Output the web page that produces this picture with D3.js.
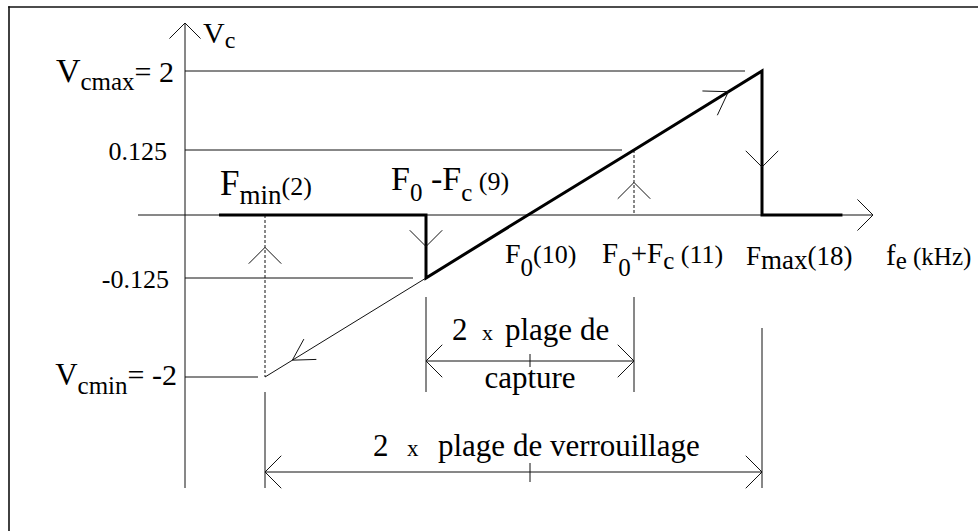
<!DOCTYPE html>
<html>
<head>
<meta charset="utf-8">
<script src="https://cdn.jsdelivr.net/npm/d3@7"></script>
<style>
  html, body { margin: 0; padding: 0; background: #fff; }
  svg { display: block; }
  text { font-family: "Liberation Serif", "Times New Roman", serif; fill: #000; }
</style>
</head>
<body>
<svg id="chart" width="978" height="531"></svg>
<script>
// Characteristic frequencies of the PLL (kHz): Fmin, F0-Fc, F0, F0+Fc, Fmax
const freqKHz = [2, 9, 10, 11, 18];
// Control voltage levels (V): Vcmin, -Vc(capture), 0, +Vc(capture), Vcmax
const vcLevels = [-2, -0.125, 0, 0.125, 2];

// Locked characteristic Vc(fe), drawn thick
const lockF = [0, 9, 9, 10, 11, 18, 18, 22.4];
const lockV = [0, 0, -0.125, 0, 0.125, 2, 0, 0];
// Lock range extension down to Fmin, drawn thin
const extF = [2, 9];
const extV = [-2, -0.125];

// Frequency-axis label parts: [text, font size, baseline shift]
const freqLabelParts = [
  [["F", 35, 0], ["min", 27, 9], ["(2)", 26, -9]],
  [["F", 34, 0], ["0", 25, 11], [" -F", 34, -11], ["c", 25, 11], [" (9)", 26, -11]],
  [["F", 28, 0], ["0", 25, 13], ["(10)", 26, -13]],
  [["F", 29, 0], ["0", 25, 13], ["+F", 29, -13], ["c", 25, 6], [" (11)", 26, -6]],
  [["F", 27, 0], ["max", 27, 4], ["(18)", 27, -4]]
];
const axisXLabelParts = [["f", 29, 0], ["e", 25, 4], [" (kHz)", 25, -4]];
const axisYLabelParts = [["V", 30, 0], ["c", 24, 5]];
const vcLabelParts = [
  [["V", 31, 0], ["cmin", 25, 9], ["= -2", 30, -9]],
  [["-0.125", 26, 0]],
  null,
  [["0.125", 26, 0]],
  [["V", 34, 0], ["cmax", 25, 8], ["= 2", 30, -8]]
];

const svg = d3.select("#chart");

// Piecewise-linear scales (the sketch is not to scale)
const x = d3.scaleLinear().domain(freqKHz).range([265, 426, 528, 634, 762]);
const y = d3.scaleLinear().domain(vcLevels).range([377, 278, 215, 150, 71]);
const axisX = 185;

const ink = "#111";
function seg(x1, y1, x2, y2, w = 1, dash = null, col = ink) {
  const l = svg.append("line").attr("x1", x1).attr("y1", y1).attr("x2", x2).attr("y2", y2)
    .attr("stroke", col).attr("stroke-width", w).attr("stroke-linecap", "butt");
  if (dash) l.attr("stroke-dasharray", dash);
  return l;
}
// Open chevron arrowhead whose tip is at (tx,ty) pointing along angle (radians)
function chevron(tx, ty, ang, len = 22, half = Math.PI / 4, w = 1) {
  const back = ang + Math.PI;
  [back - half, back + half].forEach(a => {
    seg(tx, ty, tx + len * Math.cos(a), ty + len * Math.sin(a), w);
  });
}

// Frame (top and left edges)
seg(8.2, 7, 978, 7, 1.6);
seg(9, 6.2, 9, 531, 1.6);

// Horizontal guides from the Vc axis to each level
const guideGap = [7, 13, null, 12, 17];
vcLevels.forEach((v, i) => {
  if (guideGap[i] === null) return;
  seg(axisX, y(v), x(freqKHz[i]) - guideGap[i], y(v), 1);
});

// Frequency axis with arrow
seg(138, y(0), 873, y(0), 1);
chevron(873, y(0), 0, 22, Math.PI / 4);
// Vc axis with arrow
seg(axisX, 23, axisX, 488, 1);
chevron(axisX, 23, -Math.PI / 2, 22, Math.PI / 4);

// Dashed projections
seg(x(2), y(0), x(2), y(-2), 1, "3,2");
seg(x(11), y(0.125), x(11), y(0), 1, "3,2");

// Thin extension of the characteristic down to (Fmin, Vcmin)
const line = d3.line().x(d => x(d[0])).y(d => y(d[1]));
svg.append("path").attr("d", line(d3.zip(extF, extV)))
  .attr("fill", "none").attr("stroke", ink).attr("stroke-width", 1);

// Thick locked characteristic
svg.append("path").attr("d", line(d3.zip(lockF, lockV)))
  .attr("fill", "none").attr("stroke", "#000").attr("stroke-width", 3)
  .attr("stroke-linejoin", "miter");

// Direction arrows on the characteristic
function along(f1, v1, f2, v2, t) {
  const x1 = x(f1), y1 = y(v1), x2 = x(f2), y2 = y(v2);
  return [x1 + (x2 - x1) * t, y1 + (y2 - y1) * t, Math.atan2(y2 - y1, x2 - x1)];
}
let p;
p = along(9, -0.125, 18, 2, 0.9);  chevron(p[0], p[1], p[2], 26, 0.58);
p = along(9, -0.125, 2, -2, 0.83); chevron(p[0], p[1], p[2], 24, 0.52);
p = along(9, 0, 9, -0.125, 0.5);   chevron(p[0], p[1], p[2], 23);
p = along(18, 2, 18, 0, 0.667);    chevron(p[0], p[1], p[2], 23);
p = along(2, -2, 2, 0, 0.8);       chevron(p[0], p[1], p[2], 23);
p = along(11, 0, 11, 0.125, 0.5);  chevron(p[0], p[1], p[2], 23);

// Capture range dimension
seg(x(9), 297, x(9), 392);
seg(x(11), 297, x(11), 392);
seg(x(9), 361, x(11), 361);
chevron(x(9), 361, Math.PI, 23);
chevron(x(11), 361, 0, 23);
seg(x(10) + 2, 354, x(10) + 2, 367);

// Lock range dimension
seg(x(2), 392, x(2), 488);
seg(x(18), 328, x(18), 488);
seg(x(2), 472, x(18), 472);
chevron(x(2), 472, Math.PI, 23);
chevron(x(18), 472, 0, 23);
seg(x(10) + 2, 463, x(10) + 2, 482);

// Multi-part label helper
function label(px, py, parts, anchor = "start") {
  const t = svg.append("text").attr("x", px).attr("y", py).attr("text-anchor", anchor);
  parts.forEach(([s, size, dy]) => {
    t.append("tspan").attr("font-size", size).attr("dy", dy).text(s);
  });
  t.style("white-space", "pre");
  return t;
}

// Axis titles
label(203, 43, axisYLabelParts);
label(886, 265, axisXLabelParts);

// Vc level labels
const vcLabelPos = [[177, 385], [169, 288], null, [167, 160], [174, 82]];
vcLabelParts.forEach((parts, i) => {
  if (!parts) return;
  label(vcLabelPos[i][0], vcLabelPos[i][1], parts, "end");
});

// Frequency labels
const freqLabelPos = [[220, 195], [391, 190], [505, 263], [602, 263], [746, 265]];
freqLabelParts.forEach((parts, i) => label(freqLabelPos[i][0], freqLabelPos[i][1], parts));

// Dimension captions
function caption(py, items) {
  const t = svg.append("text").attr("y", py);
  items.forEach(([s, px, size]) => t.append("tspan").attr("x", px).attr("font-size", size).text(s));
}
caption(340, [["2", 452, 31], ["x", 482, 22], ["plage de", 505, 31]]);
svg.append("text").attr("x", x(10) + 2).attr("y", 388).attr("text-anchor", "middle")
  .attr("font-size", 31).text("capture");
caption(456, [["2", 373, 31], ["x", 407, 23], ["plage de verrouillage", 438, 31]]);
</script>
</body>
</html>
